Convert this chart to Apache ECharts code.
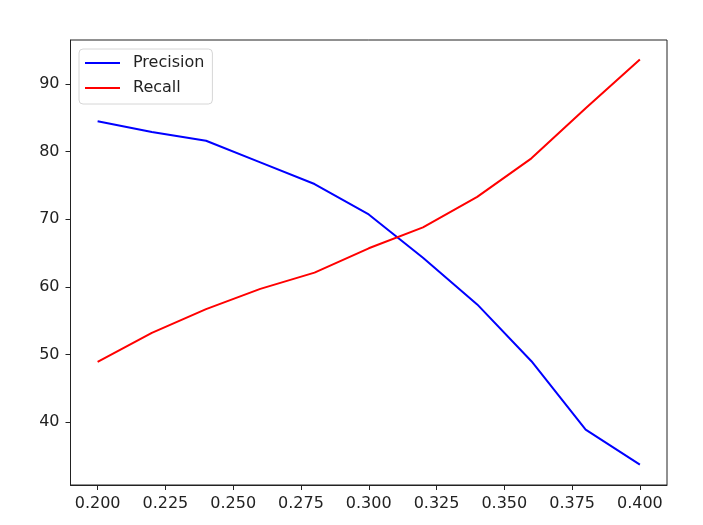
<!DOCTYPE html>
<html>
<head>
<meta charset="utf-8">
<script src="https://cdn.jsdelivr.net/npm/echarts@6/dist/echarts.min.js"></script>
<style>
html,body{margin:0;padding:0;background:#fff;}
#chart{width:703px;height:525px;}
</style>
</head>
<body>
<div id="chart"></div>
<script>
var thresholds = [0.20, 0.22, 0.24, 0.26, 0.28, 0.30, 0.32, 0.34, 0.36, 0.38, 0.40];
var precision = [84.5, 82.9, 81.6, 78.4, 75.2, 70.7, 64.3, 57.4, 49.0, 38.9, 33.7];
var recall = [48.9, 53.2, 56.7, 59.7, 62.1, 65.7, 68.8, 73.3, 79.0, 86.4, 93.6];
var xTicks = [0.200, 0.225, 0.250, 0.275, 0.300, 0.325, 0.350, 0.375, 0.400];
var yTicks = [40, 50, 60, 70, 80, 90];

function pairs(xs, ys) { return xs.map(function (x, i) { return [x, ys[i]]; }); }

var font = 'DejaVu Sans';
var chart = echarts.init(document.getElementById('chart'));
chart.setOption({
  animation: false,
  backgroundColor: '#fff',
  grid: { left: 70.5, right: 36, top: 40, bottom: 40, show: true, borderColor: '#222', borderWidth: 1, backgroundColor: 'transparent' },
  legend: {
    orient: 'vertical', left: 79, top: 49,
    padding: [5, 8, 7, 6], itemGap: 7,
    itemWidth: 35, itemHeight: 2, icon: 'rect',
    backgroundColor: 'rgba(255,255,255,0.8)', borderColor: '#d6d6d6', borderWidth: 1, borderRadius: 4,
    textStyle: { fontFamily: font, fontSize: 16, color: '#222', lineHeight: 18, padding: [0, 0, 0, 8] },
    data: ['Precision', 'Recall']
  },
  xAxis: {
    type: 'value', min: 0.19, max: 0.41,
    axisLine: { show: true, lineStyle: { color: '#222', width: 1 } },
    axisTick: { show: true, inside: false, length: 5, customValues: xTicks, lineStyle: { color: '#222' } },
    axisLabel: { customValues: xTicks, margin: 11, fontFamily: font, fontSize: 16, color: '#222',
      formatter: function (v) { return v.toFixed(3); } },
    splitLine: { show: false }
  },
  yAxis: {
    type: 'value', min: 30.7, max: 96.5,
    axisLine: { show: true, lineStyle: { color: '#222', width: 1 } },
    axisTick: { show: true, inside: false, length: 5, customValues: yTicks, lineStyle: { color: '#222' } },
    axisLabel: { customValues: yTicks, margin: 11, fontFamily: font, fontSize: 16, color: '#222' },
    splitLine: { show: false }
  },
  series: [
    { name: 'Precision', type: 'line', data: pairs(thresholds, precision), showSymbol: false, symbol: 'none',
      itemStyle: { color: '#0000ff' }, lineStyle: { color: '#0000ff', width: 2 } },
    { name: 'Recall', type: 'line', data: pairs(thresholds, recall), showSymbol: false, symbol: 'none',
      itemStyle: { color: '#ff0000' }, lineStyle: { color: '#ff0000', width: 2 } }
  ]
});
</script>
</body>
</html>
